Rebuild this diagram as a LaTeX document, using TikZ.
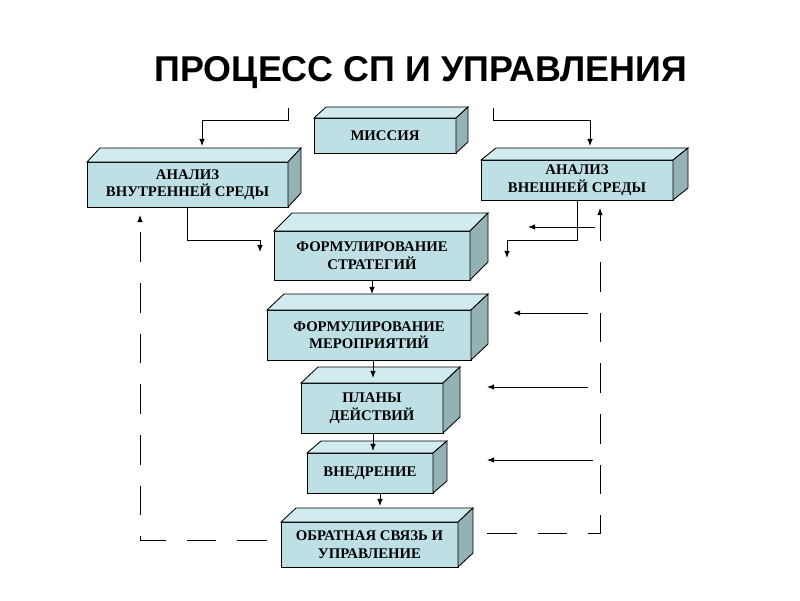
\documentclass[tikz,border=0pt]{standalone}
\usepackage{fontspec}
\setmainfont{Liberation Serif}
\newfontfamily\titlefont{Liberation Sans}
\usetikzlibrary{arrows.meta}
\definecolor{frontcol}{RGB}{190,224,228}
\definecolor{topcol}{RGB}{210,235,238}
\definecolor{sidecol}{RGB}{148,178,181}
% top and right faces of a block: node, depth right, depth up
\newcommand{\boxfaces}[3]{%
\draw[fill=topcol] (#1.north west) -- ++(#2,-#3) -- ([shift={(#2,-#3)}]#1.north east) -- (#1.north east) -- cycle;
\draw[fill=sidecol] (#1.north east) -- ([shift={(#2,-#3)}]#1.north east) -- ([shift={(#2,-#3)}]#1.south east) -- (#1.south east) -- cycle;
}
\begin{document}
\begin{tikzpicture}[x=0.025cm,y=-0.025cm,line width=0.6pt,
  block/.style={draw,black,fill=frontcol,rectangle,inner sep=0pt,outer sep=0pt,align=center,
    font=\fontsize{10.5}{12.5}\selectfont\bfseries},
  fb/.style={dash pattern=on 21pt off 15pt}]
\def\px{0.025cm}
\def\l{1.8mm}
\def\w{1.4mm}
\useasboundingbox (0,0) rectangle (800,600);
\node[anchor=base, font=\titlefont\fontsize{25.5}{28}\selectfont\bfseries, name=title] at (421,81) {ПРОЦЕСС СП И УПРАВЛЕНИЯ};
\node[block, minimum width=142*\px, minimum height=35*\px, name=mission] at (385,135.5) {МИССИЯ};
\node[block, minimum width=201*\px, minimum height=45*\px, name=inner]   at (187.5,184.5) {АНАЛИЗ\\ВНУТРЕННЕЙ СРЕДЫ};
\node[block, minimum width=192*\px, minimum height=40*\px, name=outer]   at (577,180) {АНАЛИЗ\\ВНЕШНЕЙ СРЕДЫ};
\node[block, minimum width=196*\px, minimum height=49*\px, name=strat]   at (372,255.5) {ФОРМУЛИРОВАНИЕ\\СТРАТЕГИЙ};
\node[block, minimum width=204*\px, minimum height=50*\px, name=merop]   at (369,335) {ФОРМУЛИРОВАНИЕ\\МЕРОПРИЯТИЙ};
\node[block, minimum width=142*\px, minimum height=50*\px, name=plans]   at (372,408) {ПЛАНЫ\\ДЕЙСТВИЙ};
\node[block, minimum width=126*\px, minimum height=40*\px, name=impl]    at (370,473) {ВНЕДРЕНИЕ};
\node[block, minimum width=177*\px, minimum height=45*\px, name=control] at (369.5,544.5) {ОБРАТНАЯ СВЯЗЬ И\\УПРАВЛЕНИЕ};
\boxfaces{mission}{12}{11}
\boxfaces{inner}{13}{14}
\boxfaces{outer}{15}{12}
\boxfaces{strat}{18}{18}
\boxfaces{merop}{17}{16}
\boxfaces{plans}{17}{16}
\boxfaces{impl}{14}{12}
\boxfaces{control}{15}{14}
\coordinate (tl) at (288,108);
\coordinate (tlend) at (202,146);
\coordinate (tr) at (493,108);
\coordinate (trend) at (590,146);
\coordinate (ia) at (260,252);
\coordinate (oa) at (507,258);
\draw [-{Latex[length=\l, width=\w]}](tl) -- ++(0,12) -| (tlend);
\draw [-{Latex[length=\l, width=\w]}](tr) -- ++(0,12) -| (trend);
\draw [-{Latex[length=\l, width=\w]}](inner.south) -- ++(0,33) -| (ia);
\draw [-{Latex[length=\l, width=\w]}](outer.south) -- ++(0,40) -| (oa);
\draw [-{Latex[length=\l, width=\w]}](strat.south) -- ++(0,14);
\draw [-{Latex[length=\l, width=\w]}]([shift={(4,0)}]merop.south) -- ++(0,18);
\draw [-{Latex[length=\l, width=\w]}]([shift={(1,0)}]plans.south) -- ++(0,18);
\draw [-{Latex[length=\l, width=\w]}]([shift={(10,0)}]impl.south) -- ++(0,13);
% feedback loop
\coordinate (fbl) at (140,540);
\coordinate (fblend) at (140,215);
\coordinate (fbr) at (600,533);
\coordinate (fbrend) at (600,208);
\draw [fb, -{Latex[length=\l, width=\w]}]([shift={(-14,-4.5)}]control.west) -- (fbl) -- (fblend);
\draw [fb, -{Latex[length=\l, width=\w]}]([shift={(29,-11.5)}]control.east) -- (fbr) -- (fbrend);
\coordinate (s1) at (595,227);
\coordinate (s2) at (588,313);
\coordinate (s3) at (588,387);
\coordinate (s4) at (593,460);
\draw [-{Latex[length=\l, width=\w]}](s1) -- ++(-67,0);
\draw [-{Latex[length=\l, width=\w]}](s2) -- ++(-75,0);
\draw [-{Latex[length=\l, width=\w]}](s3) -- ++(-101,0);
\draw [-{Latex[length=\l, width=\w]}](s4) -- ++(-106,0);
\end{tikzpicture}
\end{document}
